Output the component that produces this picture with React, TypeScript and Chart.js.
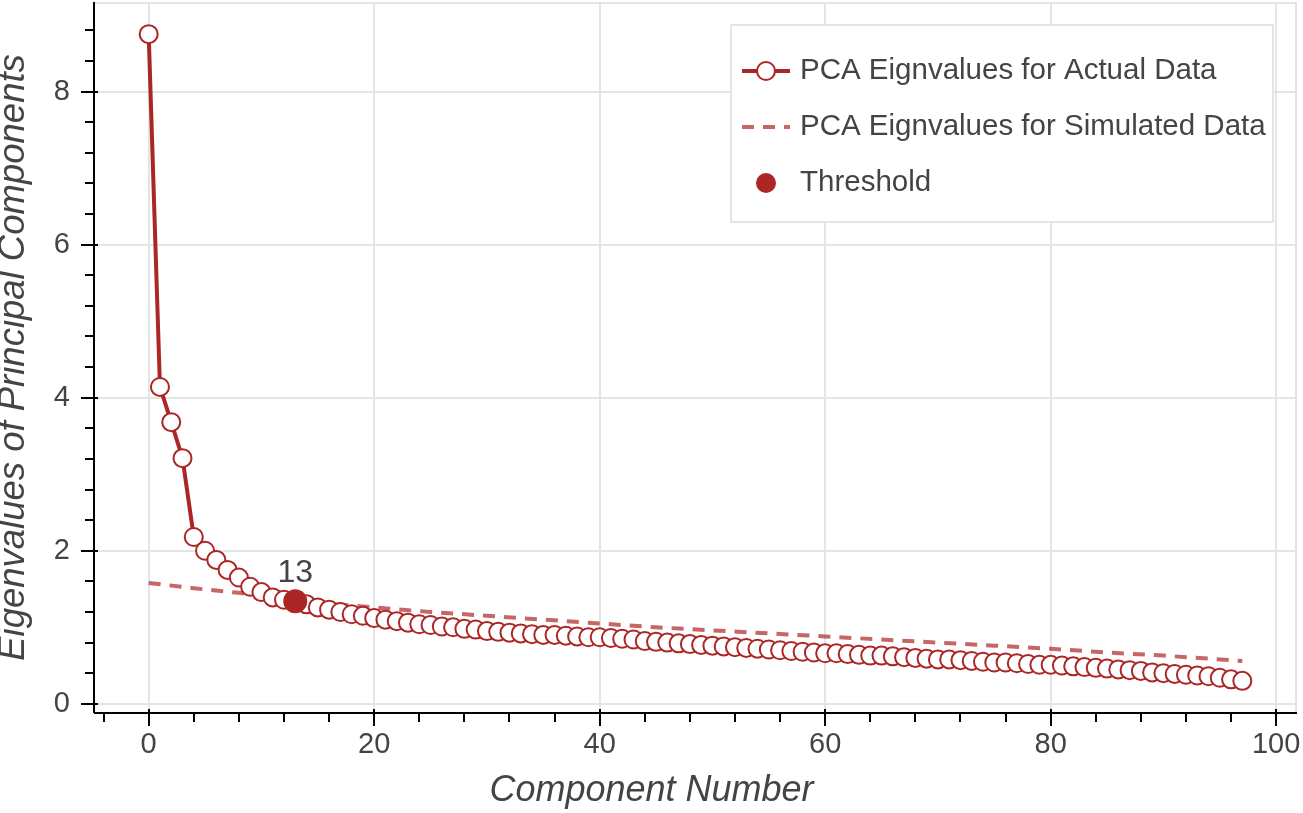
import { useEffect, useRef } from "react";
import { Chart, registerables } from "chart.js";

Chart.register(...registerables);

// eigenvalue of each principal component (component number = index)
const actualEigenvalues = [
  8.75, 4.14, 3.68, 3.21, 2.18, 2.0, 1.88, 1.75, 1.65, 1.53,
  1.46, 1.39, 1.36, 1.34, 1.3, 1.26, 1.23, 1.2, 1.17, 1.15,
  1.12, 1.1, 1.08, 1.06, 1.04, 1.03, 1.01, 1.0, 0.98, 0.97,
  0.95, 0.94, 0.93, 0.92, 0.91, 0.9, 0.9, 0.89, 0.88, 0.87,
  0.87, 0.86, 0.85, 0.84, 0.82, 0.81, 0.8, 0.79, 0.78, 0.77,
  0.76, 0.75, 0.74, 0.73, 0.72, 0.71, 0.7, 0.69, 0.68, 0.67,
  0.66, 0.66, 0.65, 0.64, 0.63, 0.63, 0.62, 0.61, 0.6, 0.59,
  0.58, 0.58, 0.57, 0.56, 0.55, 0.54, 0.54, 0.53, 0.52, 0.51,
  0.51, 0.5, 0.49, 0.48, 0.47, 0.46, 0.45, 0.44, 0.43, 0.41,
  0.4, 0.39, 0.38, 0.37, 0.36, 0.34, 0.32, 0.3,
];
const componentNumbers = actualEigenvalues.map((_, i) => i);

const simulatedComponents = [0, 4, 8, 12, 16, 20, 25, 30, 35, 40, 45, 50, 55, 60, 65, 70, 75, 80, 85, 90, 95, 97];
const simulatedEigenvalues = [
  1.58, 1.51, 1.45, 1.38, 1.31, 1.26, 1.2, 1.15, 1.1, 1.05, 1.0,
  0.96, 0.92, 0.88, 0.84, 0.8, 0.76, 0.72, 0.67, 0.63, 0.58, 0.56,
];

const thresholdComponent = 13;
const thresholdValue = 1.34;

const seriesLabels = [
  "PCA Eignvalues for Actual Data",
  "PCA Eignvalues for Simulated Data",
  "Threshold",
];

const xTicks = [0, 20, 40, 60, 80, 100];
const yTicks = [0, 2, 4, 6, 8];

const RED = "#ac2626";
const SIM_RED = "rgba(172, 38, 38, 0.7)";
const GRID = "#e5e5e5";
const TEXT = "#444444";
const FONT = "'Liberation Sans', Arial, Helvetica, sans-serif";

const X_MINOR = 4;
const Y_MINOR = 0.4;

// frame, axis lines with minor ticks, legend box and the threshold label
const decorations = {
  id: "decorations",
  beforeDatasetsDraw(chart) {
    const { ctx, chartArea: a } = chart;
    ctx.save();
    ctx.strokeStyle = GRID;
    ctx.lineWidth = 2;
    ctx.beginPath();
    ctx.moveTo(a.left, a.top + 1);
    ctx.lineTo(a.right - 1, a.top + 1);
    ctx.lineTo(a.right - 1, a.bottom);
    ctx.stroke();
    ctx.restore();
  },
  afterDraw(chart) {
    const { ctx, chartArea: a, scales } = chart;
    const xs = scales.x;
    const ys = scales.y;
    ctx.save();

    // axis lines + ticks
    ctx.strokeStyle = "#000";
    ctx.lineWidth = 2;
    ctx.beginPath();
    ctx.moveTo(a.left, a.top);
    ctx.lineTo(a.left, a.bottom);
    ctx.moveTo(a.left, a.bottom);
    ctx.lineTo(a.right, a.bottom);
    for (let k = Math.ceil(ys.min / Y_MINOR); k * Y_MINOR <= ys.max; k++) {
      const v = k * Y_MINOR;
      const py = Math.round(ys.getPixelForValue(v));
      const major = yTicks.some((t) => Math.abs(t - v) < 1e-6);
      ctx.moveTo(a.left - (major ? 13 : 9), py);
      ctx.lineTo(a.left + (major ? 4 : 0), py);
    }
    for (let k = Math.ceil(xs.min / X_MINOR); k * X_MINOR <= xs.max; k++) {
      const v = k * X_MINOR;
      const px = Math.round(xs.getPixelForValue(v));
      const major = xTicks.some((t) => Math.abs(t - v) < 1e-6);
      ctx.moveTo(px, a.bottom - (major ? 4 : 0));
      ctx.lineTo(px, a.bottom + (major ? 13 : 9));
    }
    ctx.stroke();

    // x axis title
    ctx.fillStyle = TEXT;
    ctx.font = `italic 36px ${FONT}`;
    ctx.textAlign = "center";
    ctx.textBaseline = "alphabetic";
    ctx.fillText("Component Number", chart.width / 2, 801);

    // threshold label
    const tx = xs.getPixelForValue(thresholdComponent);
    const ty = ys.getPixelForValue(thresholdValue);
    ctx.font = `32px ${FONT}`;
    ctx.fillText(String(thresholdComponent), tx, ty - 19);

    // legend
    const ds = chart.data.datasets;
    const boxW = 542;
    const boxH = 197;
    const bx = a.right - 24 - boxW;
    const by = a.top + 23;
    ctx.fillStyle = "#fff";
    ctx.fillRect(bx, by, boxW, boxH);
    ctx.strokeStyle = GRID;
    ctx.lineWidth = 2;
    ctx.strokeRect(bx, by, boxW, boxH);

    const items = [ds[1], ds[2], ds[0]];
    items.forEach((d, i) => {
      const ry = by + 46 + i * 56;
      const gx0 = bx + 11;
      const gx1 = bx + 59;
      const cx = (gx0 + gx1) / 2;
      if (i < 2) {
        ctx.strokeStyle = d.borderColor;
        ctx.lineWidth = d.borderWidth;
        ctx.setLineDash(d.borderDash || []);
        ctx.beginPath();
        ctx.moveTo(gx0, ry);
        ctx.lineTo(gx1, ry);
        ctx.stroke();
        ctx.setLineDash([]);
      }
      if (d.pointRadius > 0) {
        ctx.beginPath();
        ctx.arc(cx, ry, i === 2 ? 10 : d.pointRadius, 0, Math.PI * 2);
        ctx.fillStyle = d.pointBackgroundColor;
        ctx.fill();
        if (d.pointBorderWidth > 0) {
          ctx.lineWidth = d.pointBorderWidth;
          ctx.strokeStyle = d.pointBorderColor;
          ctx.stroke();
        }
      }
      ctx.fillStyle = TEXT;
      ctx.font = `29.5px ${FONT}`;
      ctx.textAlign = "left";
      ctx.textBaseline = "middle";
      ctx.fillText(d.label, bx + 69, ry);
    });

    ctx.restore();
  },
};

export default function App() {
  const canvasRef = useRef<HTMLCanvasElement>(null);

  useEffect(() => {
    const chart = new Chart(canvasRef.current, {
      type: "line",
      data: {
        datasets: [
          {
            label: seriesLabels[2],
            data: [{ x: thresholdComponent, y: thresholdValue }],
            showLine: false,
            pointRadius: 12,
            pointBackgroundColor: RED,
            pointBorderColor: RED,
            pointBorderWidth: 0,
            order: 0,
          },
          {
            label: seriesLabels[0],
            data: actualEigenvalues.map((v, i) => ({ x: componentNumbers[i], y: v })),
            borderColor: RED,
            borderWidth: 4,
            tension: 0,
            pointRadius: 9,
            pointBorderWidth: 2,
            pointBorderColor: RED,
            pointBackgroundColor: "#ffffff",
            order: 1,
          },
          {
            label: seriesLabels[1],
            data: simulatedEigenvalues.map((v, i) => ({ x: simulatedComponents[i], y: v })),
            borderColor: SIM_RED,
            borderWidth: 4,
            borderDash: [12, 9],
            tension: 0,
            pointRadius: 0,
            order: 2,
          },
        ],
      },
      options: {
        animation: false,
        responsive: false,
        events: [],
        layout: { autoPadding: false, padding: { left: 0, right: 6, top: 2, bottom: 0 } },
        plugins: {
          legend: { display: false },
          tooltip: { enabled: false },
        },
        scales: {
          x: {
            type: "linear",
            min: -4.85,
            max: 101.85,
            afterBuildTicks: (s) => {
              s.ticks = xTicks.map((v) => ({ value: v }));
            },
            afterFit: (s) => {
              s.height = 100;
              s.paddingLeft = 0;
              s.paddingRight = 0;
            },
            grid: { color: GRID, lineWidth: 2, drawTicks: false },
            border: { display: false },
            ticks: {
              padding: 15,
              color: TEXT,
              maxRotation: 0,
              font: { family: FONT, size: 29 },
            },
          },
          y: {
            type: "linear",
            min: -0.12,
            max: 9.17,
            afterBuildTicks: (s) => {
              s.ticks = yTicks.map((v) => ({ value: v }));
            },
            afterFit: (s) => {
              s.width = 94;
              s.paddingTop = 0;
              s.paddingBottom = 0;
            },
            grid: { color: GRID, lineWidth: 2, drawTicks: false },
            border: { display: false },
            ticks: {
              padding: 24,
              color: TEXT,
              font: { family: FONT, size: 29 },
            },
            title: {
              display: true,
              text: "Eigenvalues of Principal Components",
              color: TEXT,
              padding: 0,
              font: { family: FONT, size: 36.5, style: "italic", lineHeight: 0.74 },
            },
          },
        },
      },
      plugins: [decorations],
    });
    return () => chart.destroy();
  }, []);

  return (
    <div style={{ position: "absolute", left: 0, top: 0, width: 1303, height: 813, background: "#fff" }}>
      <canvas ref={canvasRef} width={1303} height={813} style={{ display: "block" }} />
    </div>
  );
}
